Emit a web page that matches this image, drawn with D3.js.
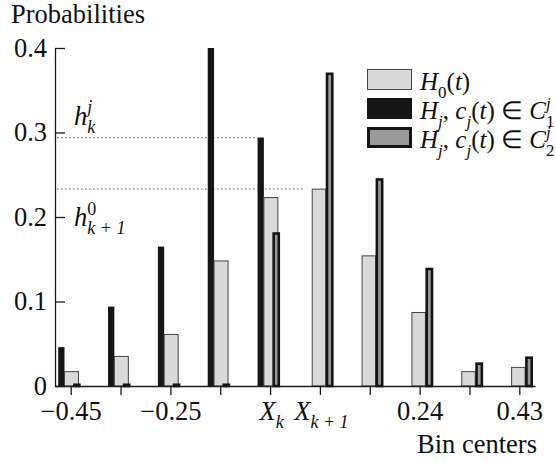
<!DOCTYPE html>
<html>
<head>
<meta charset="utf-8">
<script src="https://cdn.jsdelivr.net/npm/d3@7"></script>
<style>
  body { margin: 0; background: #fff; }
  svg { display: block; }
  text { font-family: 'Liberation Serif', 'Times New Roman', serif; fill: #111; }
</style>
</head>
<body>
<div id="chart"></div>
<script>
// bin tick labels (main part + subscript)
const tickMain = ["\u22120.45", "", "\u22120.25", "", "X", "X", "", "0.24", "", "0.43"];
const tickSub = ["", "", "", "", "k", "k + 1", "", "", "", ""];

// probabilities per bin
const probH0 = [0.017, 0.035, 0.061, 0.148, 0.223, 0.233, 0.154, 0.087, 0.017, 0.022];
const probC1 = [0.046, 0.094, 0.165, 0.400, 0.294, 0, 0, 0, 0, 0];
const probC2 = [0.003, 0.003, 0.003, 0.003, 0.182, 0.371, 0.246, 0.140, 0.028, 0.035];

const yTicks = [0, 0.1, 0.2, 0.3, 0.4];

const serif = "'Liberation Serif', 'Times New Roman', serif";

drawChart();

// writes a text made of parts: [string, kind]; kind: "", "i", "sub", "subi", "sup", "supi"
// a third item true means "stack over the previous part"
function rich(textSel, parts, size) {
    let level = 0, prevW = 0;
    parts.forEach(function(p) {
        let kind = p[1] || "";
        let t = textSel.append("tspan").text(p[0]);
        let target = 0;
        if (kind.indexOf("sub") == 0) target = 0.3 * size;
        if (kind.indexOf("sup") == 0) target = -0.42 * size;
        if (target != level) { t.attr("dy", target - level); level = target; }
        if (kind.indexOf("i") >= 0) t.style("font-style", "italic");
        if (kind.indexOf("sub") == 0 || kind.indexOf("sup") == 0) t.style("font-size", (size * 0.68) + "px");
        if (p[2]) t.attr("dx", -prevW);
        prevW = t.node().getComputedTextLength();
    });
}

function drawChart() {

    let margin = { top: 48, right: 21, bottom: 76, left: 55 },
        width = 556 - margin.left - margin.right,
        height = 462 - margin.top - margin.bottom;

    let fs = 26.5;

    let root = d3.select("#chart").append("svg")
        .attr("width", 556)
        .attr("height", 462)
        .style("font-family", serif);

    let svg = root.append("g")
        .attr("transform", "translate(" + margin.left + "," + margin.top + ")");

    let x = d3.scalePoint()
        .domain(d3.range(tickMain.length))
        .range([0, width])
        .padding(0.315);

    let y = d3.scaleLinear()
        .domain([0, 0.4])
        .range([height, 0]);

    // dotted guide lines for h_k^j and h_{k+1}^0
    svg.append("line")
        .attr("x1", 2).attr("x2", x(4) - 12.5)
        .attr("y1", y(probC1[4])).attr("y2", y(probC1[4]));
    svg.append("line")
        .attr("x1", 2).attr("x2", x(5) - 15)
        .attr("y1", y(probH0[5])).attr("y2", y(probH0[5]));
    svg.selectAll("line")
        .attr("stroke", "#777")
        .attr("stroke-width", 1.2)
        .attr("stroke-dasharray", "1.5 2.5");

    // bar geometry in pixels relative to the bin center
    function geom(i) {
        if (probC1[i] > 0)
            return { c1: [-12.5, 6.3], h0: [-6.2, 14], c2: [2.3, 7.7] };
        return { c1: [-12.5, 6.3], h0: [-7.7, 13.5], c2: [5.8, 7.9] };
    }

    let idx = d3.range(tickMain.length);

    svg.selectAll(".c1")
        .data(idx.filter(i => probC1[i] > 0))
        .enter()
        .append("rect")
        .attr("class", "c1")
        .attr("x", i => x(i) + geom(i).c1[0])
        .attr("width", i => geom(i).c1[1])
        .attr("y", i => y(probC1[i]))
        .attr("height", i => height - y(probC1[i]))
        .attr("fill", "#161616");

    svg.selectAll(".h0")
        .data(idx)
        .enter()
        .append("rect")
        .attr("class", "h0")
        .attr("x", i => x(i) + geom(i).h0[0])
        .attr("width", i => geom(i).h0[1])
        .attr("y", i => y(probH0[i]))
        .attr("height", i => height - y(probH0[i]))
        .attr("fill", "#d9d9d9")
        .attr("stroke", "#444")
        .attr("stroke-width", 1);

    let sw = 2.6;
    svg.selectAll(".c2")
        .data(idx)
        .enter()
        .append("rect")
        .attr("class", "c2")
        .attr("x", i => x(i) + geom(i).c2[0] + sw / 2)
        .attr("width", i => geom(i).c2[1] - sw)
        .attr("y", i => y(probC2[i]) + sw / 2)
        .attr("height", i => Math.max(0.5, height - y(probC2[i]) - sw / 2))
        .attr("fill", "#9a9a9a")
        .attr("stroke", "#141414")
        .attr("stroke-width", sw);

    // y axis
    let yAxis = svg.append("g")
        .call(d3.axisLeft(y)
            .tickValues(yTicks)
            .tickSize(-10)
            .tickSizeOuter(0)
            .tickPadding(8)
            .tickFormat(d => d == 0 ? "0" : d3.format(".1f")(d)));

    // x axis
    let xAxis = svg.append("g")
        .attr("transform", "translate(0," + height + ")")
        .call(d3.axisBottom(x)
            .tickSize(9)
            .tickSizeOuter(0)
            .tickPadding(6)
            .tickFormat(() => ""));

    [yAxis, xAxis].forEach(function(a) {
        a.attr("font-family", serif).attr("font-size", fs);
        a.selectAll("text")
            .style("font-size", fs + "px")
            .style("font-family", serif)
            .attr("fill", "#111");
        a.selectAll("path, line")
            .attr("stroke", "#1a1a1a")
            .attr("stroke-width", 1.3);
    });

    xAxis.selectAll(".tick text").each(function(i) {
        let t = d3.select(this);
        let parts = [[tickMain[i], tickSub[i] ? "i" : ""]];
        if (tickSub[i]) parts.push([tickSub[i], "subi"]);
        rich(t, parts, fs);
    });
    xAxis.selectAll(".tick").filter(i => tickSub[i] != "")
        .select("text").attr("dx", 1);

    // axis titles
    root.append("text")
        .attr("x", 11)
        .attr("y", 23)
        .style("font-size", fs + "px")
        .text("Probabilities");

    root.append("text")
        .attr("x", 537)
        .attr("y", 453)
        .attr("text-anchor", "end")
        .style("font-size", fs + "px")
        .text("Bin centers");

    // h annotations
    let a1 = svg.append("text")
        .attr("x", 19)
        .attr("y", y(probC1[4]) - 13)
        .style("font-size", fs + "px");
    rich(a1, [["h", "i"], ["j", "supi"], ["k", "subi", true]], fs);

    let a2 = svg.append("text")
        .attr("x", 19)
        .attr("y", y(probH0[5]) + 37)
        .style("font-size", fs + "px");
    rich(a2, [["h", "i"], ["0", "sup"], ["k + 1", "subi", true]], fs);

    // legend
    let lfs = 25;
    let legendRows = [
        { fill: "#d9d9d9", stroke: "#444", sw: 1,
          parts: [["H", "i"], ["0", "sub"], ["(", ""], ["t", "i"], [")", ""]] },
        { fill: "#161616", stroke: "#161616", sw: 0,
          parts: [["H", "i"], ["j", "subi"], [", ", ""], ["c", "i"], ["j", "subi"], ["(", ""], ["t", "i"], [") \u2208 ", ""], ["C", "i"], ["j", "supi"], ["1", "sub", true]] },
        { fill: "#9a9a9a", stroke: "#141414", sw: 3,
          parts: [["H", "i"], ["j", "subi"], [", ", ""], ["c", "i"], ["j", "subi"], ["(", ""], ["t", "i"], [") \u2208 ", ""], ["C", "i"], ["j", "supi"], ["2", "sub", true]] }
    ];

    let legend = root.append("g").attr("transform", "translate(367,69)");
    legendRows.forEach(function(r, k) {
        legend.append("rect")
            .attr("x", r.sw / 2)
            .attr("y", k * 29 + r.sw / 2)
            .attr("width", 45 - r.sw)
            .attr("height", 21 - r.sw)
            .attr("fill", r.fill)
            .attr("stroke", r.stroke)
            .attr("stroke-width", r.sw);
        let t = legend.append("text")
            .attr("x", 53)
            .attr("y", k * 29 + 21)
            .style("font-size", lfs + "px");
        rich(t, r.parts, lfs);
    });
}
</script>
</body>
</html>
